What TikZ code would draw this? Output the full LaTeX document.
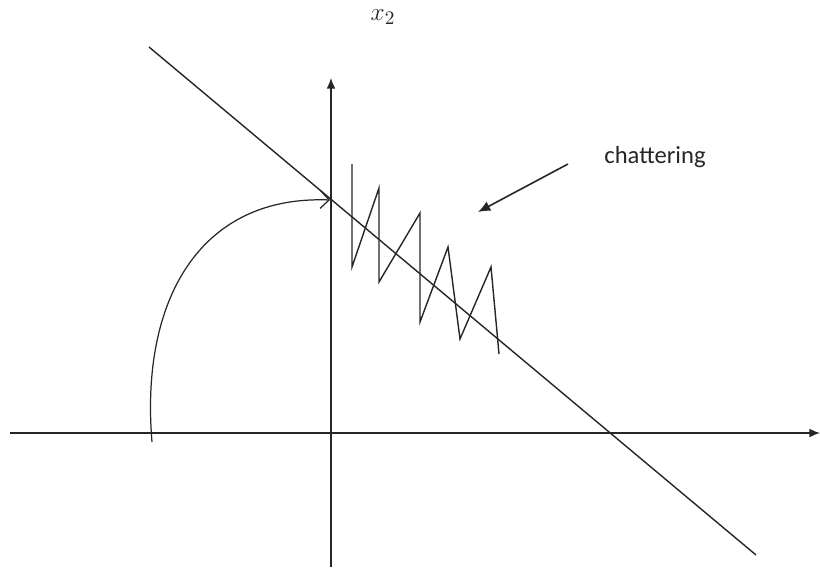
\documentclass[tikz,border=0pt]{standalone}
\usepackage{fontspec}
\newfontfamily\calfont{Carlito}
\usetikzlibrary{arrows.meta}
\tikzset{
  plainLine/.style={line width=0.8pt, color=black!85},
  axisArr/.style={-{Latex[length=6pt,width=5pt]}, line width=0.8pt, color=black!85},
  chatArr/.style={-{Latex[length=7pt,width=6pt]}, line width=0.9pt, color=black!85},
  trajArr/.style={-{Straight Barb[length=5pt,width=10pt]}, line width=0.7pt, color=black!85},
  labelText/.style={inner sep=0pt, text=black!85},
}

\begin{document}
\begin{tikzpicture}[x=0.02cm, y=-0.02cm]
\useasboundingbox (0,0) rectangle (820,571);

% axes (pixel coordinates, y downwards)
\coordinate (xl) at (10,433);
\coordinate (xr) at (820,433);
\coordinate (yb) at (331,567);
\coordinate (yt) at (331,78);
\draw[axisArr] (xl) -- (xr);
\draw[axisArr] (yb) -- (yt);
\node[labelText, font=\fontsize{15}{18}\selectfont] (xTwo) at (383,17) {$x_2$};

% sliding surface
\coordinate (sTop) at (149,47);
\coordinate (sBot) at (756,555);
\draw[plainLine] (sTop) -- (sBot);

% reaching trajectory
\coordinate (tStart) at (152,442);
\coordinate (tHit) at (330,200);
\draw[trajArr] (tStart) .. controls (140,300) and (200,195) .. (tHit);

% zigzag along the surface
\draw[plainLine] (352,164) -- (352,267) -- (379,188) -- (379,282) -- (420,213)
  -- (420,322) -- (448,247) -- (460,339) -- (491,267) -- (499,354);

\node[labelText, font=\calfont\fontsize{14}{16}\selectfont] (chat) at (655,157) {chattering};
\coordinate (chatFrom) at (568,164);
\coordinate (chatTip) at (478,212);
\draw[chatArr] (chatFrom) -- (chatTip);

\end{tikzpicture}
\end{document}
